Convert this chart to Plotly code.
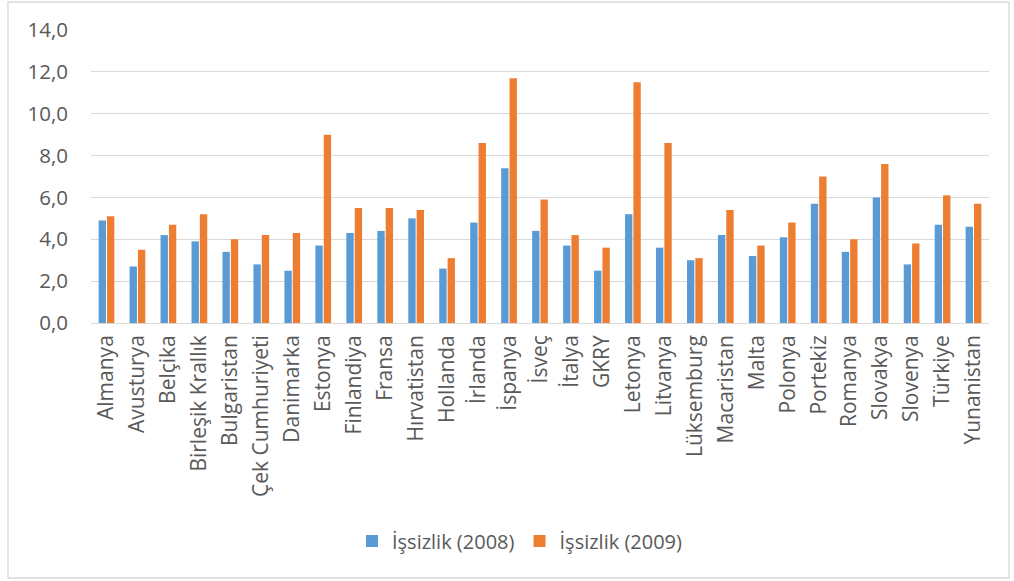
import plotly.graph_objects as go

countries = ["Almanya", "Avusturya", "Belçika", "Birleşik Krallık", "Bulgaristan",
             "Çek Cumhuriyeti", "Danimarka", "Estonya", "Finlandiya", "Fransa",
             "Hırvatistan", "Hollanda", "İrlanda", "İspanya", "İsveç", "İtalya",
             "GKRY", "Letonya", "Litvanya", "Lüksemburg", "Macaristan", "Malta",
             "Polonya", "Portekiz", "Romanya", "Slovakya", "Slovenya", "Türkiye",
             "Yunanistan"]
issizlik_2008 = [4.9, 2.7, 4.2, 3.9, 3.4, 2.8, 2.5, 3.7, 4.3, 4.4, 5.0, 2.6, 4.8, 7.4,
                 4.4, 3.7, 2.5, 5.2, 3.6, 3.0, 4.2, 3.2, 4.1, 5.7, 3.4, 6.0, 2.8, 4.7, 4.6]
issizlik_2009 = [5.1, 3.5, 4.7, 5.2, 4.0, 4.2, 4.3, 9.0, 5.5, 5.5, 5.4, 3.1, 8.6, 11.7,
                 5.9, 4.2, 3.6, 11.5, 8.6, 3.1, 5.4, 3.7, 4.8, 7.0, 4.0, 7.6, 3.8, 6.1, 5.7]
series_names = ["İşsizlik (2008)", "İşsizlik (2009)"]
y_ticks = [0, 2, 4, 6, 8, 10, 12, 14]

FONT = "Open Sans, DejaVu Sans, sans-serif"
TXT = "#595959"

fig = go.Figure()
fig.add_trace(go.Bar(x=countries, y=issizlik_2008, name=series_names[0],
                     marker=dict(color="#5B9BD5", line=dict(width=0))))
fig.add_trace(go.Bar(x=countries, y=issizlik_2009, name=series_names[1],
                     marker=dict(color="#ED7D31", line=dict(width=0))))

L, R, T, B = 91, 25, 30, 258
W, H = 1014, 581
pw = W - L - R
ph = H - T - B

def px_x(p):
    return (p - L) / pw

def px_y(p):
    return (H - B - p) / ph

fig.update_layout(
    width=W, height=H,
    margin=dict(l=L, r=R, t=T, b=B, pad=0),
    paper_bgcolor="white", plot_bgcolor="white",
    separators=",.",
    barmode="group", bargap=0.46, bargroupgap=0.12,
    font=dict(family=FONT, size=20, color=TXT),
    showlegend=True,
    legend=dict(orientation="h", x=px_x(520), xanchor="center", y=px_y(541), yanchor="middle",
                font=dict(family=FONT, size=20, color=TXT), itemwidth=30,
                traceorder="normal"),
    xaxis=dict(tickangle=-90, showgrid=False, showline=False, ticks="",
               tickfont=dict(family=FONT, size=21, color=TXT), ticklabelstandoff=7),
    yaxis=dict(range=[0, 14], tickvals=y_ticks, tickformat=".1f",
               showgrid=True, gridcolor="#D9D9D9", gridwidth=1.3,
               zeroline=True, zerolinecolor="#D9D9D9", zerolinewidth=1.3,
               showline=False, ticks="", ticklabelstandoff=22,
               tickfont=dict(family=FONT, size=20.5, color=TXT)),
    shapes=[dict(type="rect", xref="paper", yref="paper",
                 x0=px_x(8), x1=px_x(1009), y0=px_y(578), y1=px_y(2),
                 line=dict(color="#D9D9D9", width=1.3), fillcolor="rgba(0,0,0,0)",
                 layer="below")],
)

fig.write_html("out.html", config={"displayModeBar": False},
               post_script="document.body.style.margin='0';document.body.style.overflow='hidden';")
